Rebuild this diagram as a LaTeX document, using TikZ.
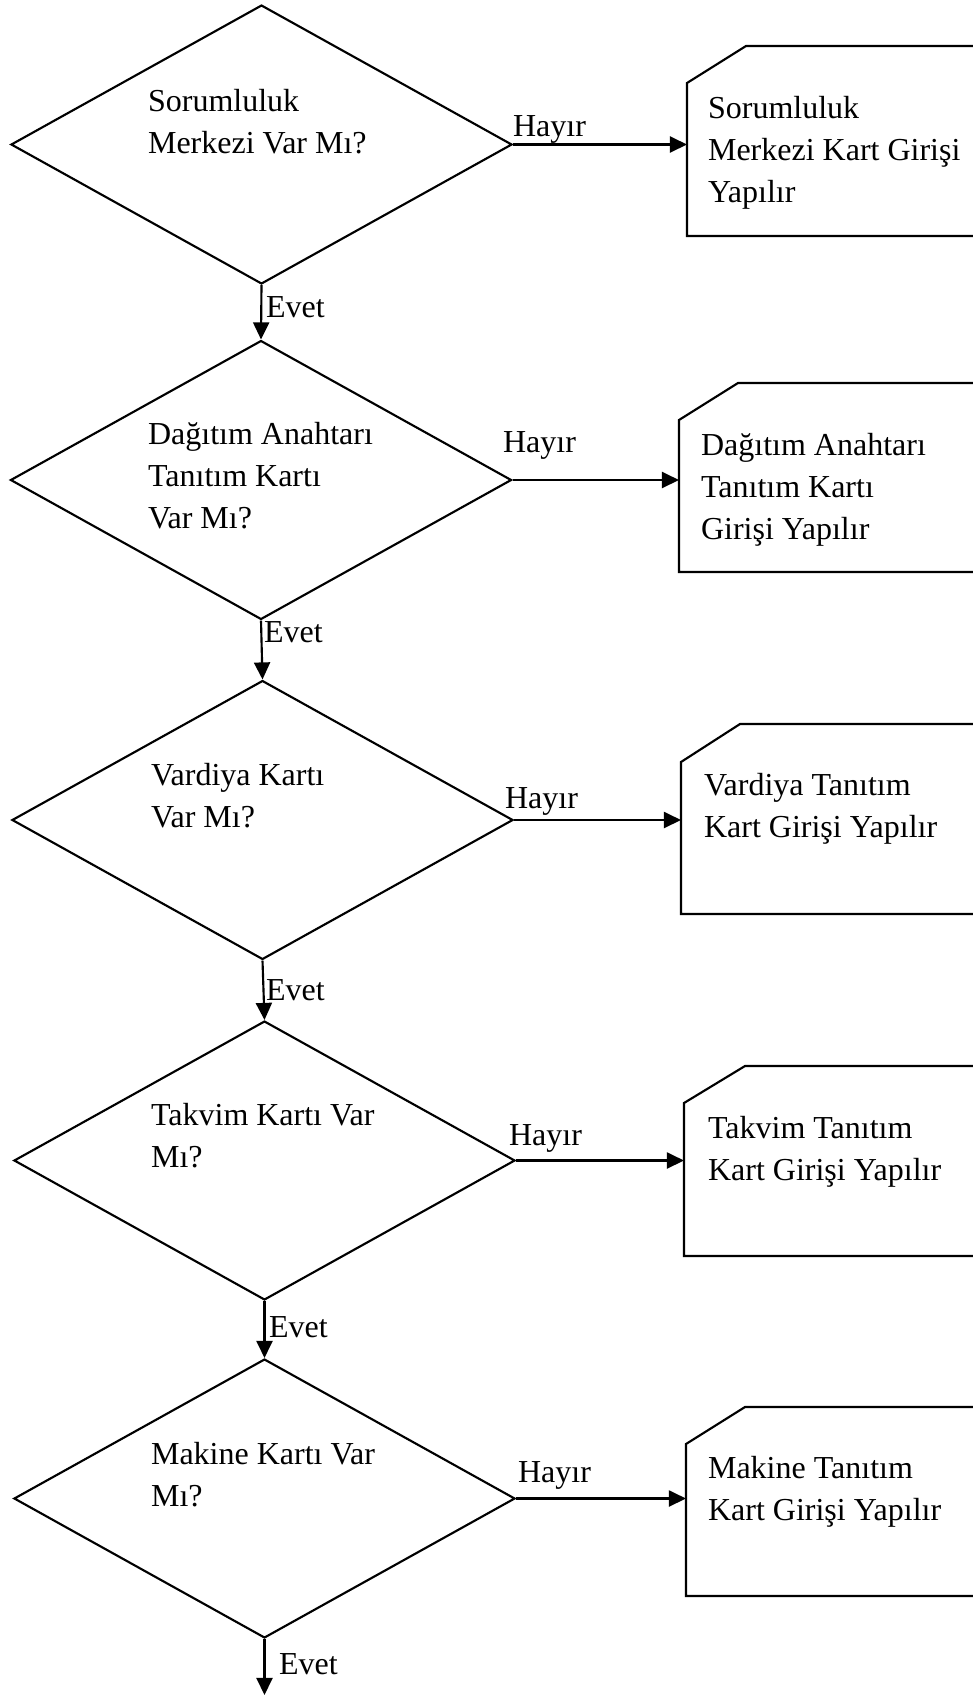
\documentclass[tikz,border=0pt]{standalone}
\usepackage{fontspec}
\setmainfont{Liberation Serif}
\usetikzlibrary{shapes.geometric,arrows.meta}
\begin{document}
\begin{tikzpicture}[x=0.375pt,y=-0.375pt,
  line width=0.8pt,
  dec/.style={diamond,draw,minimum width=187.9pt,minimum height=104.6pt,inner sep=0pt},
  txt/.style={anchor=base west,inner sep=0pt,align=left,font=\fontsize{12pt}{15.6pt}\selectfont},
  lbl/.style={anchor=base west,inner sep=0pt,font=\fontsize{12pt}{14pt}\selectfont},
  arr/.style={-{Triangle[length=6.4pt,width=6pt]}},
  card/.style={draw}]
\useasboundingbox (0,0) rectangle (973,1697);
\clip (0,0) rectangle (973,1697);

% decisions
\node[dec] (d1) at (261.5,144.5) {};
\node[dec] (d2) at (261,480) {};
\node[dec] (d3) at (262.5,820) {};
\node[dec] (d4) at (264.5,1160.5) {};
\node[dec] (d5) at (264.5,1498.5) {};

% (anchor = baseline of last line)
\node[txt] (t1) at (147,153) {Sorumluluk\\Merkezi Var Mı?};
\node[txt] (t2) at (147,528) {Dağıtım Anahtarı\\Tanıtım Kartı\\Var Mı?};
\node[txt] (t3) at (150,827) {Vardiya Kartı\\Var Mı?};
\node[txt] (t4) at (150,1167) {Takvim Kartı Var\\Mı?};
\node[txt] (t5) at (150,1506) {Makine Kartı Var\\Mı?};

% cards
\draw[card] (1000,46) -- (746,46) -- (687,83) -- (687,236) -- (1000,236);
\draw[card] (1000,383) -- (738,383) -- (679,420) -- (679,572) -- (1000,572);
\draw[card] (1000,724) -- (740,724) -- (681,762) -- (681,914) -- (1000,914);
\draw[card] (1000,1066) -- (745,1066) -- (684,1103) -- (684,1256) -- (1000,1256);
\draw[card] (1000,1407) -- (745,1407) -- (686,1444) -- (686,1596) -- (1000,1596);

\coordinate (b1) at (687,144.5);
\coordinate (b2) at (679,480);
\coordinate (b3) at (681,820);
\coordinate (b4) at (684,1160.5);
\coordinate (b5) at (686,1498.5);

\node[txt] (c1) at (707,202) {Sorumluluk\\Merkezi Kart Girişi\\Yapılır};
\node[txt] (c2) at (700,539) {Dağıtım Anahtarı\\Tanıtım Kartı\\Girişi Yapılır};
\node[txt] (c3) at (703,837) {Vardiya Tanıtım\\Kart Girişi Yapılır};
\node[txt] (c4) at (707,1180) {Takvim Tanıtım\\Kart Girişi Yapılır};
\node[txt] (c5) at (707,1520) {Makine Tanıtım\\Kart Girişi Yapılır};

% Hayır connectors
\draw[arr] (d1.east) -- (b1);
\draw[arr] (d2.east) -- (b2);
\draw[arr] (d3.east) -- (b3);
\draw[arr] (d4.east) -- (b4);
\draw[arr] (d5.east) -- (b5);

\node[lbl] (h1) at (512,136) {Hayır};
\node[lbl] (h2) at (502,452) {Hayır};
\node[lbl] (h3) at (504,808) {Hayır};
\node[lbl] (h4) at (508,1145) {Hayır};
\node[lbl] (h5) at (517,1482) {Hayır};

% Evet connectors
\coordinate (end) at (264.5,1695);
\draw[arr] (d1.south) -- (d2.north);
\draw[arr] (d2.south) -- (d3.north);
\draw[arr] (d3.south) -- (d4.north);
\draw[arr] (d4.south) -- (d5.north);
\draw[arr] (d5.south) -- (end);

\node[lbl] (e1) at (265,317) {Evet};
\node[lbl] (e2) at (263,642) {Evet};
\node[lbl] (e3) at (265,1000) {Evet};
\node[lbl] (e4) at (268,1337) {Evet};
\node[lbl] (e5) at (278,1674) {Evet};
\end{tikzpicture}
\end{document}
